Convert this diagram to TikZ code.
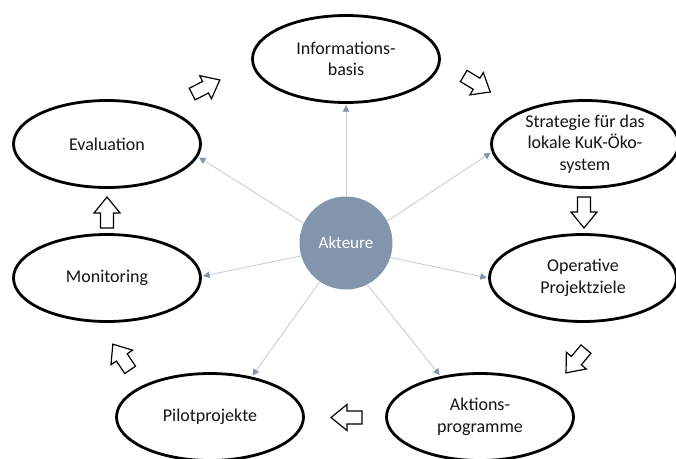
\documentclass[tikz,border=0pt]{standalone}
\usepackage{fontspec}
\setmainfont{Carlito}
\usetikzlibrary{shapes.geometric,arrows.meta}

\definecolor{akteurfill}{RGB}{131,149,173}
\definecolor{linkgray}{RGB}{200,206,216}
\definecolor{textdark}{RGB}{20,20,20}

\tikzset{
  stage/.style={ellipse, draw=black, line width=2.8pt, fill=white,
    minimum width=187pt, minimum height=87pt, inner sep=0pt,
    align=center, text=textdark,
    font=\fontsize{18}{21.5}\selectfont},
  hub/.style={circle, fill=akteurfill, minimum size=93pt, inner sep=0pt,
    text=white, font=\fontsize{17}{20}\selectfont},
  link/.style={draw=linkgray, line width=0.9pt, shorten >=1.3pt,
    -{Triangle[length=6.5pt,width=6.5pt,color=akteurfill]}},
  blockarrow/.style={draw=black, fill=white, line width=1.2pt, line join=miter},
  flowarrow/.pic={
    \draw[blockarrow] (15.5,0) -- (-0.5,13) -- (-0.5,6.5) -- (-15.5,6.5)
      -- (-15.5,-6.5) -- (-0.5,-6.5) -- (-0.5,-13) -- cycle;
  }
}

\begin{document}
\begin{tikzpicture}[x=1pt,y=-1pt]
  \useasboundingbox (0,0) rectangle (676,458);
  \fill[white] (0,0) rectangle (676,458);

  % cycle of stages
  \node[stage] (info)  at (346,59)  {Informations-\\basis};
  \node[stage] (strat) at (585,144) {Strategie für das\\lokale KuK-Öko-\\system};
  \node[stage] (oper)  at (583,278) {Operative\\Projektziele};
  \node[stage] (aktion) at (480,417) {Aktions-\\programme};
  \node[stage] (pilot) at (210,417) {Pilotprojekte};
  \node[stage] (moni)  at (107,278) {Monitoring};
  \node[stage] (eval)  at (107,144) {Evaluation};

  % central actors
  \node[hub] (akt) at (346,243) {Akteure};

  % links from the actors to each stage
  \draw[link] (akt.90)  -- (info.-90);
  \draw[link] (akt.28)  -- (strat.185);
  \draw[link] (akt.-18) -- (oper.180);
  \draw[link] (akt.-63) -- (aktion.134);
  \draw[link] (akt.236) -- (pilot.44);
  \draw[link] (akt.196) -- (moni.1);
  \draw[link] (akt.155) -- (eval.-8);

  % block arrows along the cycle
  \pic[rotate=27]   at (206,87)    {flowarrow};
  \pic[rotate=-31]  at (477,84)    {flowarrow};
  \pic[rotate=-90]  at (584,212.5) {flowarrow};
  \pic[rotate=-130] at (576,361)   {flowarrow};
  \pic[rotate=180]  at (346.5,417.5) {flowarrow};
  \pic[rotate=124]  at (121.5,357) {flowarrow};
  \pic[rotate=90]   at (107,212.5) {flowarrow};
\end{tikzpicture}
\end{document}
